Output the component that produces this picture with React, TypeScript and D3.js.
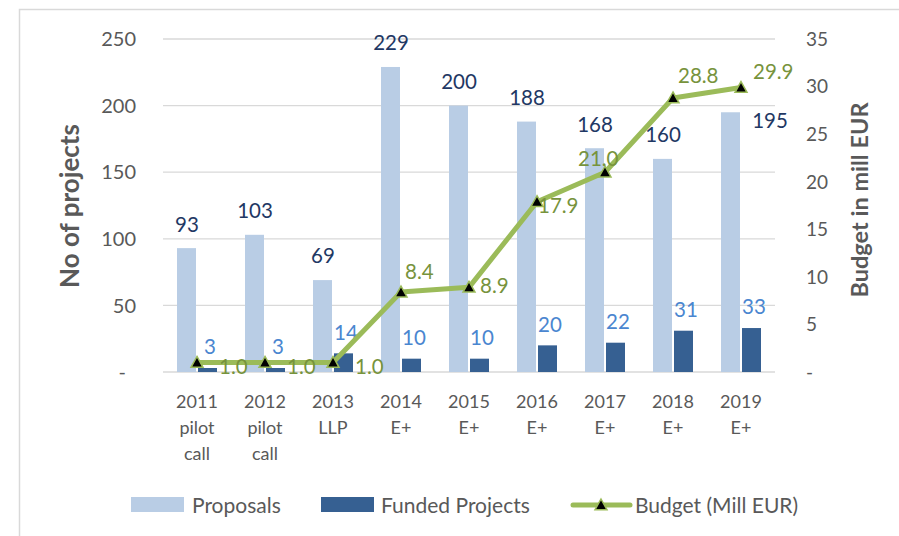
import React from "react";
import * as d3 from "d3";

const categories: string[][] = [
  ["2011", "pilot", "call"],
  ["2012", "pilot", "call"],
  ["2013", "LLP"],
  ["2014", "E+"],
  ["2015", "E+"],
  ["2016", "E+"],
  ["2017", "E+"],
  ["2018", "E+"],
  ["2019", "E+"],
];
const proposals: number[] = [93, 103, 69, 229, 200, 188, 168, 160, 195];
const funded: number[] = [3, 3, 14, 10, 10, 20, 22, 31, 33];
const budget: number[] = [1.0, 1.0, 1.0, 8.4, 8.9, 17.9, 21.0, 28.8, 29.9];
const leftTicks: number[] = [0, 50, 100, 150, 200, 250];
const rightTicks: number[] = [0, 5, 10, 15, 20, 25, 30, 35];

// label placement (style) for budget labels: [dx from point to text start, dy of text center]
const budgetLabelOffset: [number, number][] = [
  [22, 4], [22, 4], [22, 4], [4, -20], [11, -2], [1, 4], [-27, -14], [5, -22], [12, -16],
];

const W = 899;
const H = 536;
const plot = { left: 163, right: 775, top: 39, bottom: 372 };

const FONT = "Lato, 'Open Sans', sans-serif";
const GRAY = "#595959";

export default function App() {
  const keys = categories.map((c) => c.join(" "));
  const x = d3.scaleBand<string>().domain(keys).range([plot.left, plot.right]).padding(0);
  const yL = d3.scaleLinear().domain([0, 250]).range([plot.bottom, plot.top]);
  const yR = d3.scaleLinear().domain([0, 35]).range([plot.bottom, plot.top]);
  const cx = (i: number) => (x(keys[i]) as number) + x.bandwidth() / 2;
  const barW = 19;

  const line = d3
    .line<number>()
    .x((_, i) => cx(i))
    .y((d) => yR(d));

  const tri = (px: number, py: number, s = 6) =>
    `M${px},${py - s} L${px + s},${py + s * 0.8} L${px - s},${py + s * 0.8} Z`;

  return (
    <svg
      width={W}
      height={H}
      style={{ position: "absolute", left: 0, top: 0, background: "#fff" }}
      fontFamily={FONT}
    >
      <rect x={19.5} y={9.5} width={W} height={H} fill="#fff" stroke="#d9d9d9" strokeWidth={1.5} />

      {/* gridlines */}
      {leftTicks.map((t) => (
        <line
          key={"g" + t}
          x1={plot.left}
          x2={plot.right}
          y1={yL(t)}
          y2={yL(t)}
          stroke="#d9d9d9"
          strokeWidth={t === 0 ? 1.5 : 1.3}
        />
      ))}

      {/* left ticks */}
      {leftTicks.map((t) => (
        <text
          key={"lt" + t}
          x={t === 0 ? 126 : 136}
          y={yL(t)}
          dy="0.36em"
          textAnchor="end"
          fontSize={20}
          fill={GRAY}
        >
          {t === 0 ? "-" : t}
        </text>
      ))}

      {/* right ticks */}
      {rightTicks.map((t) => (
        <text
          key={"rt" + t}
          x={806}
          y={yR(t)}
          dy="0.36em"
          textAnchor="start"
          fontSize={19}
          fill={GRAY}
        >
          {t === 0 ? "-" : t}
        </text>
      ))}

      {/* axis titles */}
      <text
        transform={`translate(70,206) rotate(-90)`}
        textAnchor="middle"
        dy="0.35em"
        fontSize={26}
        fontWeight="bold"
        fill={GRAY}
      >
        No of projects
      </text>
      <text
        transform={`translate(860,200) rotate(-90)`}
        textAnchor="middle"
        dy="0.35em"
        fontSize={23.5}
        fontWeight="bold"
        fill={GRAY}
      >
        Budget in mill EUR
      </text>

      {/* bars */}
      {proposals.map((v, i) => (
        <rect
          key={"p" + i}
          x={cx(i) - barW - 1}
          y={yL(v)}
          width={barW}
          height={yL(0) - yL(v)}
          fill="#b9cde5"
        />
      ))}
      {funded.map((v, i) => (
        <rect
          key={"f" + i}
          x={cx(i) + 1}
          y={yL(v)}
          width={barW}
          height={yL(0) - yL(v)}
          fill="#366092"
        />
      ))}

      {/* proposal labels */}
      {proposals.map((v, i) => {
        const last = i === proposals.length - 1;
        return (
          <text
            key={"pl" + i}
            x={last ? cx(i) + 29 : cx(i) - 10}
            y={last ? yL(v) + 8 : yL(v) - 24}
            dy="0.36em"
            textAnchor="middle"
            fontSize={20.5}
            fill="#1f3864"
          >
            {v}
          </text>
        );
      })}

      {/* funded labels */}
      {funded.map((v, i) => (
        <text
          key={"fl" + i}
          x={cx(i) + 13}
          y={yL(v) - 21}
          dy="0.36em"
          textAnchor="middle"
          fontSize={20.5}
          fill="#4a86d0"
        >
          {v}
        </text>
      ))}

      {/* budget line */}
      <path d={line(budget) as string} fill="none" stroke="#9bbb59" strokeWidth={5} strokeLinejoin="round" />
      {budget.map((v, i) => (
        <path key={"m" + i} d={tri(cx(i), yR(v))} fill="#000" stroke="#9bbb59" strokeWidth={1.5} />
      ))}
      {budget.map((v, i) => (
        <text
          key={"bl" + i}
          x={cx(i) + budgetLabelOffset[i][0]}
          y={yR(v) + budgetLabelOffset[i][1]}
          dy="0.36em"
          textAnchor="start"
          fontSize={20.5}
          fill="#77933c"
        >
          {v.toFixed(1)}
        </text>
      ))}

      {/* category labels */}
      {categories.map((lines, i) => (
        <text key={"c" + i} x={cx(i)} y={402} textAnchor="middle" fontSize={18} fill={GRAY}>
          {lines.map((l, j) => (
            <tspan key={j} x={cx(i)} y={402 + j * 26} dy="0.36em">
              {l}
            </tspan>
          ))}
        </text>
      ))}

      {/* legend */}
      <g fontSize={21} fill={GRAY}>
        <rect x={131} y={497} width={53} height={15} fill="#b9cde5" />
        <text x={192} y={505} dy="0.36em">Proposals</text>
        <rect x={321} y={497} width={53} height={15} fill="#366092" />
        <text x={381} y={505} dy="0.36em">Funded Projects</text>
        <line x1={573} x2={630} y1={505} y2={505} stroke="#9bbb59" strokeWidth={5} strokeLinecap="round" />
        <path d={tri(601, 505)} fill="#000" stroke="#9bbb59" strokeWidth={1.5} />
        <text x={635} y={505} dy="0.36em">Budget (Mill EUR)</text>
      </g>
    </svg>
  );
}
